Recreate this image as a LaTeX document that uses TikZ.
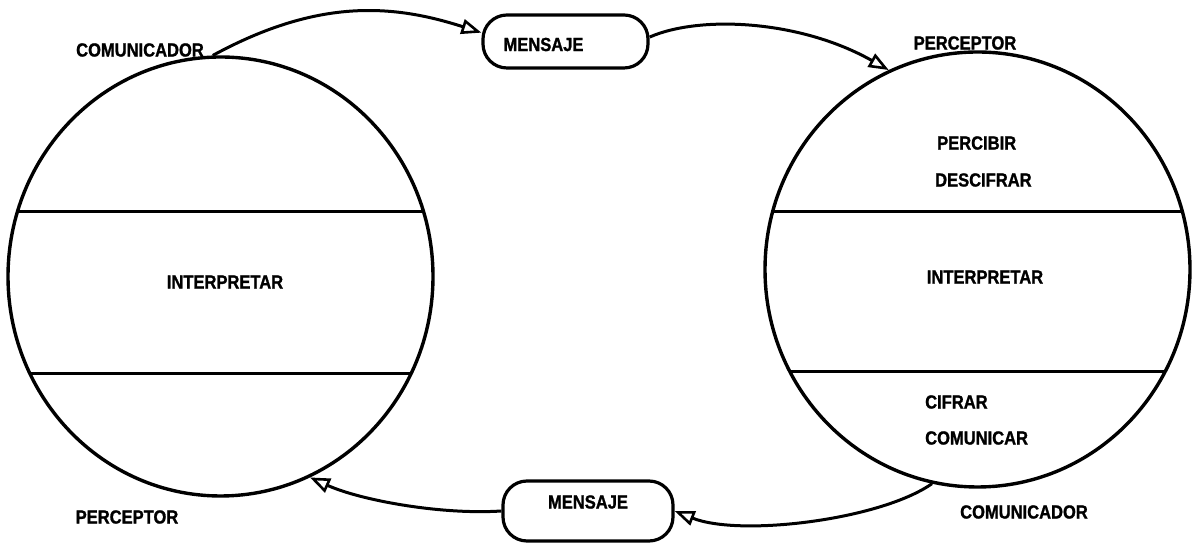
\documentclass[tikz,border=0pt]{standalone}
\usepackage{fontspec}
\setmainfont{Liberation Sans}[FakeStretch=0.87, BoldFeatures={FakeBold=1.2}]
\usetikzlibrary{arrows.meta, shapes.geometric}
\begin{document}
\begin{tikzpicture}[x=1pt, y=1pt,
  lbl/.style={inner sep=0pt, font=\fontsize{19}{21}\selectfont\bfseries},
  divider/.style={line width=3pt},
  orb/.style={draw, ellipse, inner sep=0pt, line width=3.4pt},
  msg/.style={draw, rectangle, rounded corners=24pt, line width=3.2pt, inner sep=0pt,
              font=\fontsize{19}{21}\selectfont\bfseries},
  flow/.style={line width=3pt, -{Triangle[open, length=20pt, width=15pt, line width=2.6pt]}}]
\useasboundingbox (0,0) rectangle (1192,545);
% circles with dividers
\node[orb, minimum width=425pt, minimum height=439pt,
  path picture={
    \draw[divider] ([yshift=64.5pt]path picture bounding box.west) -- ([yshift=64.5pt]path picture bounding box.east);
    \draw[divider] ([yshift=-97.5pt]path picture bounding box.west) -- ([yshift=-97.5pt]path picture bounding box.east);
  }] (L) at (220.5,268.5) {};
\node[orb, minimum width=425pt, minimum height=435pt,
  path picture={
    \draw[divider] ([yshift=57.5pt]path picture bounding box.west) -- ([yshift=57.5pt]path picture bounding box.east);
    \draw[divider] ([yshift=-102.5pt]path picture bounding box.west) -- ([yshift=-102.5pt]path picture bounding box.east);
  }] (R) at (977.5,275.5) {};
% message boxes
\node[msg, minimum width=165pt, minimum height=53pt] (m1) at (565.5,503.5)
  {\raisebox{-3pt}[\height][\depth]{MENSAJE}\kern44pt};
\node[msg, minimum width=170pt, minimum height=60pt] (m2) at (588,34)
  {\raisebox{9pt}[\height][\depth]{MENSAJE}};
% labels
\node[lbl] (c1) at (140,495) {COMUNICADOR};
\node[lbl] (p1) at (965,502) {PERCEPTOR};
\node[lbl, anchor=west] (t1) at (937,402) {PERCIBIR};
\node[lbl, anchor=west] (t2) at (935,365) {DESCIFRAR};
\node[lbl] (i1) at (225,263) {INTERPRETAR};
\node[lbl] (i2) at (985,268) {INTERPRETAR};
\node[lbl, anchor=west] (t3) at (925,143) {CIFRAR};
\node[lbl, anchor=west] (t4) at (925,107) {COMUNICAR};
\node[lbl] (c2) at (1024,33) {COMUNICADOR};
\node[lbl] (p2) at (127,28) {PERCEPTOR};
% flows
\draw[flow] (L.92.5) .. controls (320,548) and (395,540) .. (m1.174);
\draw[flow] (m1.3) .. controls (700,530) and (800,525) .. (R.114.6);
\draw[flow] (R.258.2) .. controls (880,25) and (740,8) .. (m2.east);
\draw[flow] (m2.west) .. controls (440,30) and (360,45) .. (L.294.3);
\end{tikzpicture}
\end{document}
